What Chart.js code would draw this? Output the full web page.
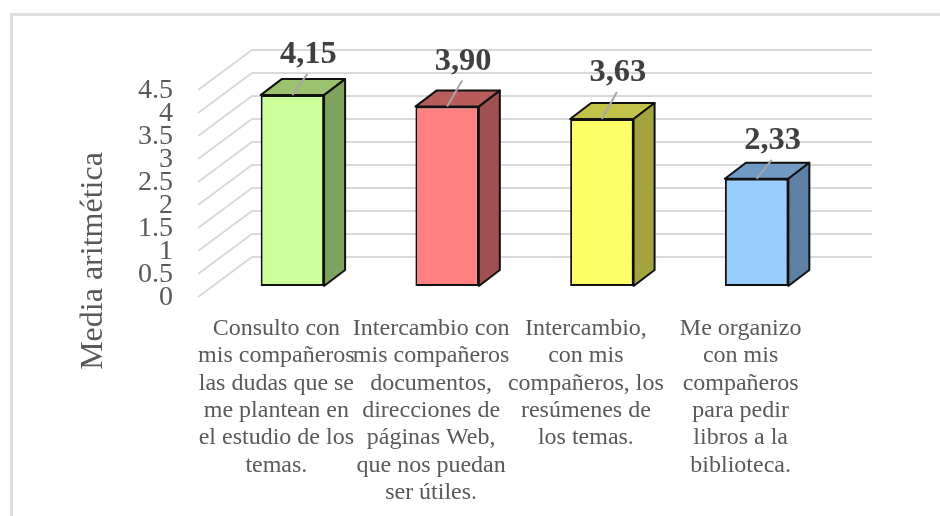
<!DOCTYPE html>
<html>
<head>
<meta charset="utf-8">
<script src="https://cdn.jsdelivr.net/npm/chart.js@4"></script>
<style>
  html, body { margin: 0; padding: 0; background: #fff; overflow: hidden; }
  .frame { position: absolute; left: 10px; top: 13px; right: 0; bottom: 0; border-left: 3px solid #dedede; border-top: 3px solid #dedede; box-sizing: border-box; }
  canvas { position: absolute; left: 0; top: 0; }
</style>
</head>
<body>
<div class="frame"></div>
<canvas id="myChart" width="940" height="516"></canvas>
<script>
const categories = [
  ["Consulto con", "mis compañeros", "las dudas que se", "me plantean en", "el estudio de los", "temas."],
  ["Intercambio con", "mis compañeros", "documentos,", "direcciones de", "páginas Web,", "que nos puedan", "ser útiles."],
  ["Intercambio,", "con mis", "compañeros, los", "resúmenes de", "los temas."],
  ["Me organizo", "con mis", "compañeros", "para pedir", "libros a la", "biblioteca."]
];
const values = [4.15, 3.90, 3.63, 2.33];
const frontColors = ["#ccff99", "#ff8080", "#ffff66", "#99ccff"];
const topColors = ["#9bc26f", "#b85c5c", "#c2c24b", "#709ac4"];
const sideColors = ["#7fa35e", "#a05050", "#a3a33f", "#5f80a5"];

const TEXT = "#595959";
const SERIF = "'Liberation Serif', serif";

/* how far the data label sits above each bar */
const labelLift = [42, 47, 48, 40];

/* fake 3D walls, floor and box sides */
const walls = {
  id: "walls",
  beforeDatasetsDraw(chart) {
    const { ctx, chartArea, scales: { y } } = chart;
    const xFront = chartArea.left - 17;
    const xBack = chartArea.left + 37;
    const xEnd = chartArea.right + 38;

    ctx.save();
    ctx.strokeStyle = "#d9d9d9";
    ctx.lineWidth = 2;
    y.ticks.forEach((t) => {
      const py = y.getPixelForValue(t.value);
      ctx.beginPath();
      ctx.moveTo(xFront, py + 11);
      ctx.lineTo(xBack, py - 29);
      ctx.lineTo(xEnd, py - 29);
      ctx.stroke();
    });

    const dx = 21, dy = 16;
    ctx.strokeStyle = "#111";
    ctx.lineWidth = 2;
    ctx.lineJoin = "round";
    chart.getDatasetMeta(0).data.forEach((bar, i) => {
      const l = bar.x - bar.width / 2;
      const r = bar.x + bar.width / 2;

      /* top */
      ctx.beginPath();
      ctx.moveTo(l, bar.y);
      ctx.lineTo(l + dx, bar.y - dy);
      ctx.lineTo(r + dx, bar.y - dy);
      ctx.lineTo(r, bar.y);
      ctx.closePath();
      ctx.fillStyle = topColors[i];
      ctx.fill();
      ctx.stroke();

      /* side */
      ctx.beginPath();
      ctx.moveTo(r, bar.y);
      ctx.lineTo(r + dx, bar.y - dy);
      ctx.lineTo(r + dx, bar.base - dy);
      ctx.lineTo(r, bar.base);
      ctx.closePath();
      ctx.fillStyle = sideColors[i];
      ctx.fill();
      ctx.stroke();
    });
    ctx.restore();
  },
  afterDatasetsDraw(chart) {
    const { ctx } = chart;
    ctx.save();
    ctx.textAlign = "center";
    ctx.textBaseline = "middle";
    chart.getDatasetMeta(0).data.forEach((bar, i) => {
      /* leader line */
      ctx.beginPath();
      ctx.moveTo(bar.x, bar.y);
      ctx.lineTo(bar.x + 15, bar.y - labelLift[i] + 21);
      ctx.strokeStyle = "#a6a6a6";
      ctx.lineWidth = 2;
      ctx.stroke();

      ctx.font = "bold 32.5px " + SERIF;
      ctx.fillStyle = "#404040";
      ctx.fillText(values[i].toFixed(2).replace(".", ","), bar.x + 16, bar.y - labelLift[i] + 2);
    });

    /* axis title, lower than the scale's own title would put it */
    ctx.translate(94, 261);
    ctx.rotate(-Math.PI / 2);
    ctx.font = "32px " + SERIF;
    ctx.fillStyle = TEXT;
    ctx.fillText("Media aritmética", 0, 0);
    ctx.restore();
  }
};

new Chart(document.getElementById("myChart").getContext("2d"), {
  type: "bar",
  data: {
    labels: categories,
    datasets: [{
      data: values,
      backgroundColor: frontColors,
      borderColor: "#111",
      borderWidth: 2,
      borderSkipped: false,
      barPercentage: 0.41,
      categoryPercentage: 1
    }]
  },
  options: {
    responsive: false,
    animation: false,
    layout: { padding: { top: 79, right: 106 } },
    plugins: { legend: { display: false }, tooltip: { enabled: false } },
    scales: {
      x: {
        grid: { display: false },
        border: { display: false },
        afterFit(scale) { scale.height = 230; },
        ticks: {
          color: TEXT,
          font: { family: SERIF, size: 24, lineHeight: 1.14 },
          maxRotation: 0,
          autoSkip: false,
          padding: 21,
          labelOffset: -16
        }
      },
      y: {
        min: 0,
        max: 4.5,
        grid: { display: false },
        border: { display: false },
        afterFit(scale) { scale.width = 215; },
        ticks: {
          stepSize: 0.5,
          autoSkip: false,
          color: TEXT,
          font: { family: SERIF, size: 28, lineHeight: 1 },
          padding: 34,
          labelOffset: 12,
          callback: (v) => String(v)
        }
      }
    }
  },
  plugins: [walls]
});
</script>
</body>
</html>
